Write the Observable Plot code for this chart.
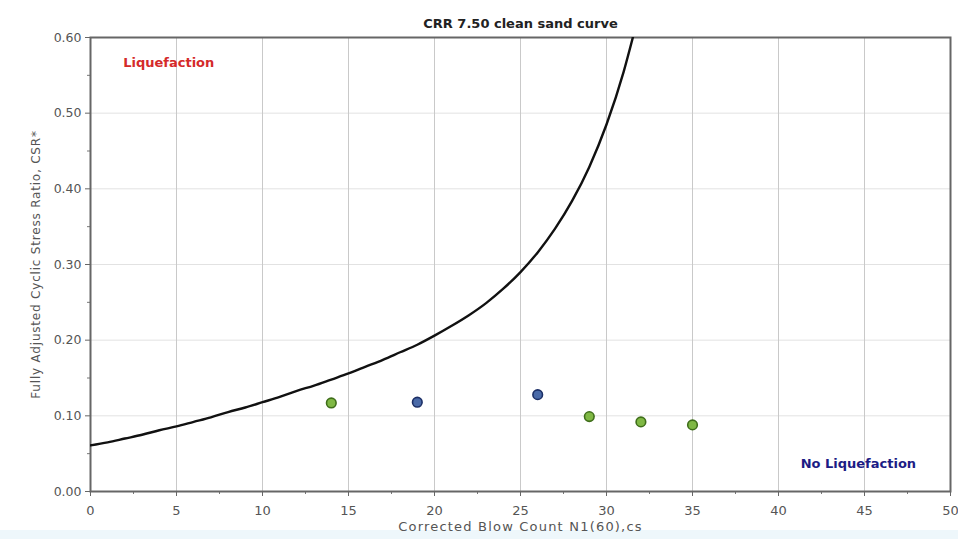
<!DOCTYPE html>
<html>
<head>
<meta charset="utf-8">
<script src="https://cdn.jsdelivr.net/npm/d3@7"></script>
<script src="https://cdn.jsdelivr.net/npm/@observablehq/plot@0.6"></script>
<style>
  html, body { margin: 0; padding: 0; background: #fff; }
  #wrap { position: relative; width: 958px; height: 539px; }
  #band { position: absolute; left: 0; top: 530px; width: 958px; height: 9px; background: #eef7fb; }
  #chart { position: absolute; left: 0; top: 0; }
  #chart svg { display: block; }
</style>
</head>
<body>
<div id="wrap">
  <div id="band"></div>
  <div id="chart"></div>
</div>
<script>
// CRR 7.5 clean sand curve (blow count vs. cyclic resistance ratio)
const curveN   = [0, 1, 2, 3, 4, 5, 6, 7, 8, 9, 10, 11, 12, 13, 14, 15, 16, 17, 18, 19, 20,
                  21, 22, 23, 24, 25, 26, 27, 28, 29, 30, 31, 31.6];
const curveCRR = [0.061, 0.065, 0.070, 0.075, 0.081, 0.086, 0.092, 0.098, 0.105, 0.111, 0.118,
                  0.125, 0.133, 0.140, 0.148, 0.156, 0.165, 0.174, 0.184, 0.194, 0.206,
                  0.219, 0.233, 0.249, 0.268, 0.290, 0.316, 0.347, 0.384, 0.429, 0.485, 0.555, 0.606];

// Site data points: corrected blow count and fully adjusted CSR
const pointN     = [14, 19, 26, 29, 32, 35];
const pointCSR   = [0.117, 0.118, 0.128, 0.099, 0.092, 0.088];
const pointGroup = ["green", "blue", "blue", "green", "green", "green"];

const xTicks = [0, 5, 10, 15, 20, 25, 30, 35, 40, 45, 50];
const xMinor = [2.5, 7.5, 12.5, 17.5, 22.5, 27.5, 32.5, 37.5, 42.5, 47.5];
const yTicks = [0, 0.1, 0.2, 0.3, 0.4, 0.5, 0.6];
const yMinor = [0.05, 0.15, 0.25, 0.35, 0.45, 0.55];

// Zone annotations
const liqLabel   = {text: "Liquefaction",    n: 1.9,  csr: 0.567};
const noLiqLabel = {text: "No Liquefaction", n: 48.0, csr: 0.036};

const titleText  = "CRR 7.50 clean sand curve";
const xLabelText = "Corrected Blow Count N1(60),cs";
const yLabelText = "Fully Adjusted Cyclic Stress Ratio, CSR*";

const curve = curveN.map((n, i) => ({n, crr: curveCRR[i]}));
const points = pointN.map((n, i) => ({n, csr: pointCSR[i], group: pointGroup[i]}));

const fillFor = {green: "#7fb844", blue: "#4a6aa8"};
const strokeFor = {green: "#3f6e1a", blue: "#1c2f66"};

const font = "DejaVu Sans, Verdana, sans-serif";

const chart = Plot.plot({
  width: 958,
  height: 539,
  marginLeft: 90,
  marginRight: 8,
  marginTop: 37,
  marginBottom: 48,
  style: {fontFamily: font, fontSize: "12px", color: "#555", background: "transparent"},
  x: {domain: [0, 50]},
  y: {domain: [0, 0.6]},
  marks: [
    Plot.gridY(yTicks, {stroke: "#e2e2e2", strokeOpacity: 1}),
    Plot.gridX(xTicks, {stroke: "#c9c9c9", strokeOpacity: 1}),
    Plot.axisX(xTicks, {tickSize: 5, tickPadding: 9, tickFormat: d3.format("d"), label: null, stroke: "#666", fill: "#555", fontSize: 13}),
    Plot.axisX(xMinor, {tickSize: 3, text: null, label: null, stroke: "#777"}),
    Plot.axisY(yTicks, {tickSize: 5, tickPadding: 4, tickFormat: d3.format(".2f"), label: null, stroke: "#666", fill: "#555", fontSize: 12.5}),
    Plot.axisY(yMinor, {tickSize: 3, text: null, label: null, stroke: "#777"}),
    Plot.frame({stroke: "#666", strokeWidth: 2}),
    Plot.line(curve, {x: "n", y: "crr", stroke: "#111", strokeWidth: 2.4, curve: "monotone-x", clip: true}),
    Plot.dot(points, {x: "n", y: "csr", r: 4.8, fill: d => fillFor[d.group], stroke: d => strokeFor[d.group], strokeWidth: 1.6}),
    Plot.text([liqLabel], {x: "n", y: "csr", text: "text", fill: "#d42a2a", textAnchor: "start", fontWeight: "bold", fontSize: 13}),
    Plot.text([noLiqLabel], {x: "n", y: "csr", text: "text", fill: "#1c1c85", textAnchor: "end", fontWeight: "bold", fontSize: 13}),
    Plot.text([titleText], {frameAnchor: "top", lineAnchor: "middle", dy: -14, fontWeight: "bold", fontSize: 13, fill: "#222"}),
    Plot.text([xLabelText], {frameAnchor: "bottom", lineAnchor: "middle", dy: 35, fontSize: 13, fill: "#555"}),
    Plot.text([yLabelText], {frameAnchor: "left", dx: -54, rotate: -90, textAnchor: "middle", fontSize: 12, fill: "#555"})
  ]
});

// Looser letter spacing on the axis titles
d3.select(chart).selectAll("text")
  .filter(function() { return this.textContent === xLabelText; })
  .style("letter-spacing", "1.2px");
d3.select(chart).selectAll("text")
  .filter(function() { return this.textContent === yLabelText; })
  .style("letter-spacing", "0.8px");

document.getElementById("chart").appendChild(chart);
</script>
</body>
</html>
